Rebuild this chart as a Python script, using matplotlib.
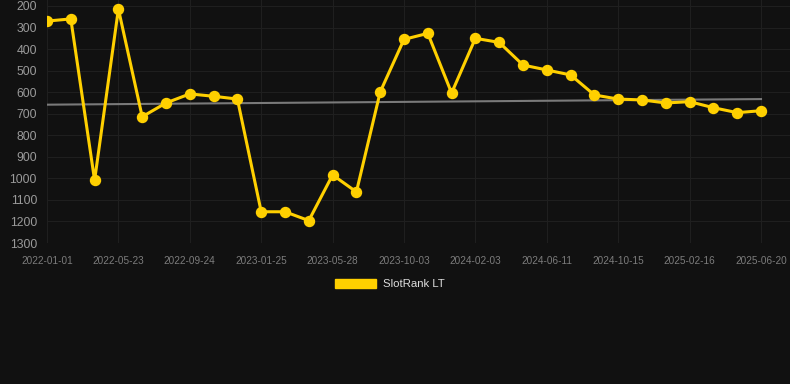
import numpy as np
import matplotlib.pyplot as plt
from matplotlib.patches import Patch

# SlotRank LT values, one point per period (x axis is categorical)
SlotRank = [270, 260, 1009, 214, 714, 650, 608, 619, 632, 1155,
            1155, 1196, 984, 1063, 599, 355, 327, 604, 350, 369,
            474, 497, 520, 613, 632, 636, 650, 644, 672, 695, 686]
TickLabels = ['2022-01-01', '2022-05-23', '2022-09-24', '2023-01-25', '2023-05-28',
              '2023-10-03', '2024-02-03', '2024-06-11', '2024-10-15', '2025-02-16',
              '2025-06-20']
TrendStart = 658
TrendEnd = 632

plt.rcParams['font.family'] = ['Liberation Sans', 'DejaVu Sans']
bg = '#111111'
yellow = '#FFD000'

fig = plt.figure(figsize=(7.9, 3.84), dpi=100)
fig.patch.set_facecolor(bg)
ax = fig.add_axes([47/790, 1-243/384, 1-47/790, 243/384])
ax.set_facecolor(bg)

x = np.arange(len(SlotRank))
ax.plot([x[0], x[-1]], [TrendStart, TrendEnd], color='#7a7a7a', lw=1.5, zorder=2)
ax.plot(x, SlotRank, color=yellow, lw=2.2, marker='o', ms=7.2, zorder=3,
        solid_joinstyle='miter')

ax.set_xlim(0, (790-47)/23.8)
ax.set_ylim(1300, 200 - 6/0.2155)
ax.set_yticks(np.arange(200, 1301, 100))
ax.set_xticks(x[::3])
ax.set_xticklabels(TickLabels)
ax.grid(True, color='#1f1f1f', lw=0.8)
for s in ax.spines.values():
    s.set_visible(False)
ax.tick_params(axis='y', length=0, pad=7.2, labelsize=8.8, labelcolor='#9a9a9a')
ax.tick_params(axis='x', length=0, pad=9, labelsize=7.2, labelcolor='#7c7c7c')

leg = fig.legend(handles=[Patch(facecolor=yellow, edgecolor=yellow, label='SlotRank LT')],
                 loc='center', bbox_to_anchor=(390/790, 1-284/384), frameon=False,
                 fontsize=8.2, handlelength=3.6, handleheight=0.9, handletextpad=0.6)
for t in leg.get_texts():
    t.set_color('#dddddd')

plt.savefig('out.png', dpi=100, facecolor=bg)
